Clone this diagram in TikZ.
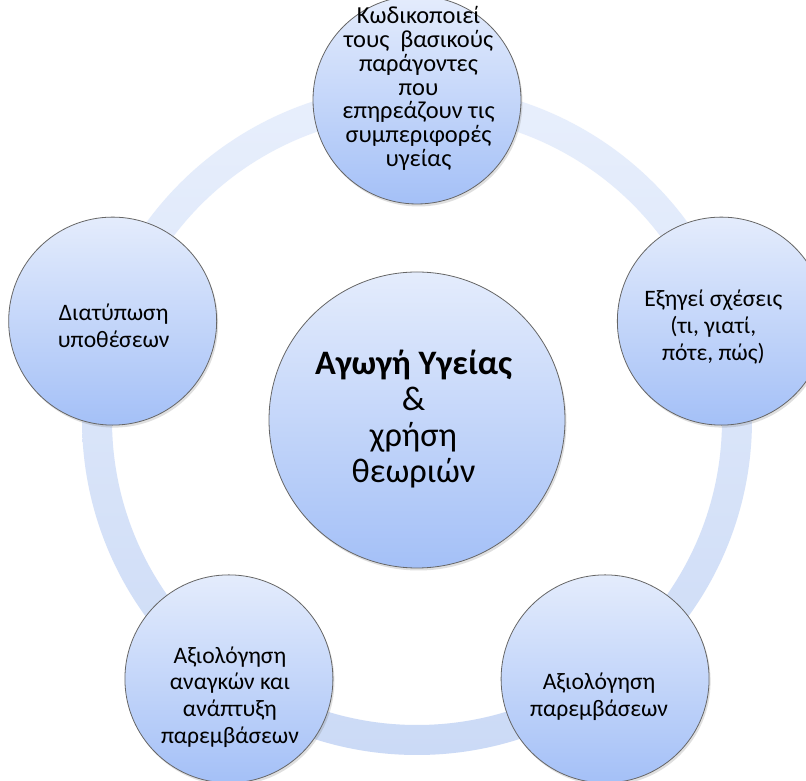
\documentclass[tikz,border=0pt]{standalone}
\usepackage{fontspec}
\setmainfont{Carlito}
\usetikzlibrary{shadows,calc}
\definecolor{ringtop}{HTML}{E8EFFC}
\definecolor{ringbot}{HTML}{CBDAF6}
\definecolor{bubtop}{HTML}{E4ECFC}
\definecolor{bubbot}{HTML}{A4C0F7}
\definecolor{bubline}{HTML}{666666}
\newlength\mywa
\newlength\mywb
\newlength\mywc
\newlength\mywd
\newlength\mywe
\settowidth\mywa{\fontsize{10}{12}\selectfont Διατύπωση}
\settowidth\mywb{\fontsize{10}{12}\selectfont Εξηγεί σχέσεις}
\settowidth\mywc{\fontsize{10}{12}\selectfont Κωδικοποιεί}
\settowidth\mywd{\fontsize{10}{12}\selectfont επηρεάζουν τις}
\settowidth\mywe{\fontsize{10}{12}\selectfont\bfseries Αγωγή Υγείας}
\pgfmathsetmacro\outsz{5*108/\mywa + 5*140/\mywb}
\pgfmathsetmacro\topsz{5*117/\mywc + 5*160/\mywd}
\pgfmathsetmacro\ctrsz{10*197/\mywe}
\begin{document}
\begin{tikzpicture}[x=1pt,y=1pt,
  bubble/.style={circle, draw=bubline, line width=0.8pt, top color=bubtop, bottom color=bubbot, inner sep=0pt,
    drop shadow={opacity=0.25, shadow xshift=1.5pt, shadow yshift=-2.5pt}},
  outerb/.style={bubble, minimum size=208pt},
  ctrb/.style={bubble, minimum size=296pt},
  lbl/.style={align=center, font=\fontsize{\outsz}{26.7}\selectfont, inner sep=0pt},
  toplbl/.style={align=center, font=\fontsize{\topsz}{23.8}\selectfont, inner sep=0pt},
  clbl/.style={align=center, font=\fontsize{\ctrsz}{36}\selectfont, inner sep=0pt}]
\useasboundingbox (0,0) rectangle (806,781);
\fill[white] (0,0) rectangle (806,781);
\coordinate (o) at (417,361);
\shade[top color=ringtop, bottom color=ringbot, even odd rule] (o) circle (335) (o) circle (305);
\node[ctrb] (c) at (o) {};
\node[outerb] (n1) at ($(o)+(90:320)$) {};
\node[outerb] (n2) at ($(o)+(18:320)$) {};
\node[outerb] (n3) at ($(o)+(-54:320)$) {};
\node[outerb] (n4) at ($(o)+(-126:320)$) {};
\node[outerb] (n5) at ($(o)+(162:320)$) {};
\node[clbl] (tc) at ($(c)+(-3.5,1)$) {\textbf{Αγωγή Υγείας}\\\&\\χρήση\\θεωριών};
\node[toplbl] (t1) at ($(n1)+(1.5,11.5)$) {Κωδικοποιεί\\τους\ \ βασικούς\\παράγοντες\\που\\επηρεάζουν τις\\συμπεριφορές\\υγείας};
\node[lbl] (t2) at ($(n2)+(-8,-6)$) {Εξηγεί σχέσεις\\(τι, γιατί,\\πότε, πώς)};
\node[lbl] (t3) at ($(n3)+(-6,-17.5)$) {Αξιολόγηση\\παρεμβάσεων};
\node[lbl] (t4) at ($(n4)+(1,-18)$) {Αξιολόγηση\\αναγκών και\\ανάπτυξη\\παρεμβάσεων};
\node[lbl] (t5) at ($(n5)+(1,-4.5)$) {Διατύπωση\\υποθέσεων};
\end{tikzpicture}
\end{document}
